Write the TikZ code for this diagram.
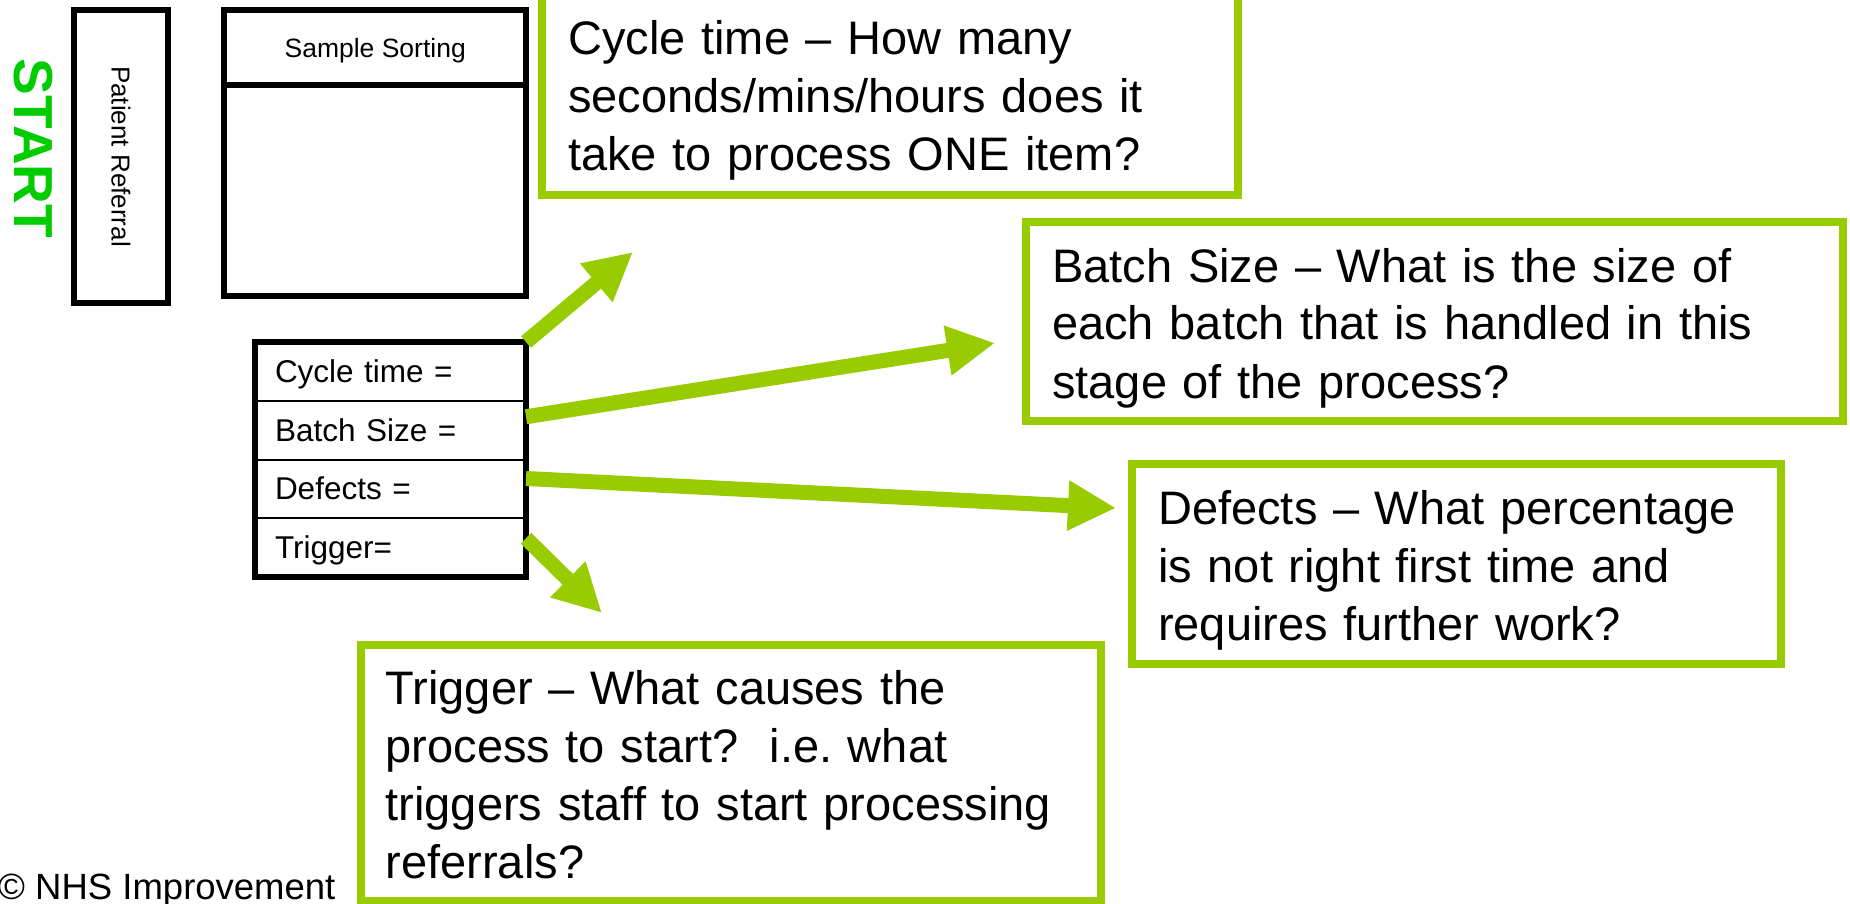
\documentclass[tikz,border=0pt]{standalone}
\usepackage{fontspec}
\setmainfont{Liberation Sans}
\usetikzlibrary{arrows.meta,positioning,fit}
\definecolor{nhsgreen}{RGB}{153,204,0}
\definecolor{stgreen}{RGB}{0,204,0}
\tikzstyle{bk}=[rectangle,draw=black,line width=6pt,outer sep=0pt,inner sep=0pt]
\tikzstyle{rw}=[rectangle,draw=black,line width=2pt,outer sep=0pt,inner xsep=20pt,inner ysep=0pt,minimum width=271pt,minimum height=58.75pt,text width=231pt,align=left,text height=22pt,text depth=0pt,font=\fontsize{31.5}{36}\selectfont]
\tikzstyle{gb}=[rectangle,draw=nhsgreen,line width=8pt,outer sep=0pt,inner sep=0pt,anchor=north west]
\tikzstyle{gt}=[anchor=base west,inner sep=0pt,text width=800pt,align=left,font=\fontsize{47}{58}\selectfont]
\tikzstyle{grArrow}=[line width=15pt,draw=nhsgreen,-{Triangle[length=48pt,width=47pt]}]

\begin{document}
\begin{tikzpicture}[x=1pt,y=-1pt]
    \useasboundingbox (0,0) rectangle (1850,904);
    \node (start) [rotate=-90,text=stgreen,font=\fontsize{55}{60}\selectfont\bfseries] at (33,148.5) {START};
    \node (pat) [bk,rotate=-90,minimum width=293pt,minimum height=94.7pt,font=\fontsize{26}{30}\selectfont] at (121,156.5) {Patient Referral};
    \node (smph) [bk,anchor=north west,minimum width=301.6pt,minimum height=75pt,text depth=0pt,font=\fontsize{26.5}{30}\selectfont] at (224.4,10) {Sample Sorting};
    \node (smp) [bk,below=0pt of smph,minimum width=301.6pt,minimum height=211pt] {};

    % data table
    \node (row1) [rw,anchor=north west] at (255,342) {Cycle time =};
    \node (row2) [rw,below=0pt of row1] {Batch Size =};
    \node (row3) [rw,below=0pt of row2] {Defects =};
    \node (row4) [rw,below=0pt of row3] {Trigger=};
    \node (tbl) [bk,line width=5.5pt,fit=(row1)(row4)] {};

    \node (q1) [gb,minimum width=695.5pt,minimum height=200.5pt] at (542,-5) {};
    \node (t1) [gt] at ([xshift=26pt,yshift=-60pt]q1.north west) {Cycle time -- How many\\seconds/mins/hours does it\\take to process ONE item?};
    \node (q2) [gb,minimum width=816.5pt,minimum height=199pt] at (1026,222) {};
    \node (t2) [gt] at ([xshift=26pt,yshift=-60pt]q2.north west) {Batch Size -- What is the size of\\each batch that is handled in this\\stage of the process?};
    \node (q3) [gb,minimum width=649pt,minimum height=200pt] at (1132,464) {};
    \node (t3) [gt] at ([xshift=26pt,yshift=-60pt]q3.north west) {Defects -- What percentage\\is not right first time and\\requires further work?};
    \node (q4) [gb,minimum width=740.5pt,minimum height=256pt] at (360.5,645) {};
    \node (t4) [gt] at ([xshift=25pt,yshift=-59pt]q4.north west) {Trigger -- What causes the\\process to start?\ \ i.e.\ what\\triggers staff to start processing\\referrals?};

    \coordinate (e1) at (633,252);
    \coordinate (e2) at (995,343);
    \coordinate (e3) at (1116,508);
    \coordinate (e4) at (602,613);
    \draw[grArrow] (tbl.north east) -- (e1);
    \draw[grArrow] ([yshift=-16pt]row2.north east) -- (e2);
    \draw[grArrow] ([yshift=-19pt]row3.north east) -- (e3);
    \draw[grArrow] ([yshift=-20pt]row4.north east) -- (e4);

    \node (copy) [anchor=base west,inner sep=0pt,font=\fontsize{36.5}{40}\selectfont] at (-2,899) {© NHS Improvement};
\end{tikzpicture}
\end{document}
